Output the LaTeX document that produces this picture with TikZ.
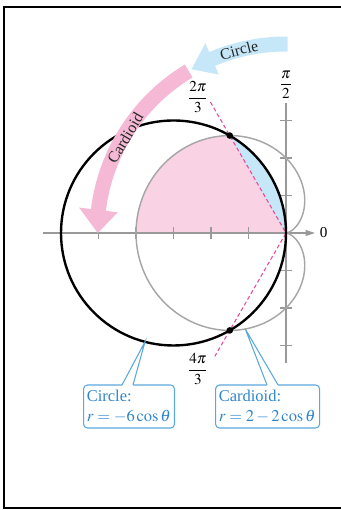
\documentclass[tikz,border=0pt]{standalone}
\usepackage{mathptmx}
\usepackage{fontspec}
\setmainfont{Liberation Serif}
\usepackage{tikz}
\usetikzlibrary{arrows.meta}
\definecolor{cardpink}{HTML}{F5B8D5}
\definecolor{regionpink}{HTML}{F9D2E4}
\definecolor{circblue}{HTML}{C6E7F8}
\definecolor{dashpink}{HTML}{E8489A}
\definecolor{axisgray}{HTML}{999999}
\definecolor{curvegray}{HTML}{A6A6A6}
\definecolor{calloutblue}{HTML}{5AA8DC}
\definecolor{labelblue}{HTML}{2F86CC}

\begin{document}
\begin{tikzpicture}[
  axis/.style={draw=axisgray, line width=0.8pt},
  tick/.style={draw=axisgray, line width=0.8pt},
  polarcurve/.style={draw=curvegray, line width=1.1pt},
  ray/.style={draw=dashpink, line width=0.8pt, dash pattern=on 3pt off 2pt},
  bandtext/.style={font=\fontsize{12}{14}\selectfont, text=black!85, inner sep=0pt},
  anglelabel/.style={font=\fontsize{11.5}{13}\selectfont, inner sep=1pt},
  callout/.style={draw=calloutblue, line width=0.8pt, rounded corners=3pt,
              fill=white, text=labelblue, align=left, inner xsep=2.5pt,
              minimum height=1.147cm, font=\fontsize{12.5}{15.5}\selectfont},
  pointer/.style={draw=calloutblue, line width=0.8pt},
  dot/.style={circle, fill=black, inner sep=0pt, minimum size=5pt}
]
\useasboundingbox (-7.627,-7.387) rectangle (1.44,6.213);
\draw[line width=1.5pt] (-7.52,-7.333) rectangle (3,6.027);

\fill[regionpink] (0,0) -- plot[domain=120:180, samples=40] (\x:{2-2*cos(\x)}) -- cycle;
\fill[circblue] (0,0) -- plot[domain=90:120, samples=30] (\x:{-6*cos(\x)}) -- cycle;

\draw[axis, -{Triangle[length=7pt, width=4.5pt]}] (-6.48,0) -- (0.77,0);
\draw[axis] (0,-3.47) -- (0,3.47);
\foreach \x in {1,...,6}
  \draw[tick] (-\x,-0.15) -- (-\x,0.15);
\foreach \y in {-3,-2,-1,1,2,3}
  \draw[tick] (-0.17,\y) -- (0.17,\y);

\draw[polarcurve] plot[domain=0:360, samples=181] (\x:{2-2*cos(\x)}) -- cycle;
\draw[ray] (120:4.03) -- (0,0) -- (240:3.8);
\draw[line width=1.8pt] (-3,0) circle[radius=3];

\node[dot] (ptop) at (120:3) {};
\node[dot] (pbot) at (240:3) {};

\fill[circblue] (89.5:4.84) -- (89.5:5.24) arc[start angle=89.5, end angle=113, radius=5.24]
  -- (113:5.5) -- (120:5.04) -- (113:4.59) -- (113:4.84)
  arc[start angle=113, end angle=89.5, radius=4.84] -- cycle;
\fill[cardpink] (121:4.84) -- (121:5.24) arc[start angle=121, end angle=173, radius=5.24]
  -- (173:5.56) -- (180:5.02) -- (173:4.52) -- (173:4.84)
  arc[start angle=173, end angle=121, radius=4.84] -- cycle;
\node[bandtext, rotate=14.5] (ncircle) at (104.4:5.04) {Circle};
\node[bandtext, rotate=59.5] (ncard)   at (149.5:4.98) {Cardioid};

\node[anglelabel] (nhalf)  at (0,3.95)      {$\displaystyle\frac{\pi}{2}$};
\node[anglelabel] (ntwo)   at (-2.35,3.63)  {$\displaystyle\frac{2\pi}{3}$};
\node[anglelabel] (nfour)  at (-2.35,-3.63) {$\displaystyle\frac{4\pi}{3}$};
\node[anglelabel, anchor=west, inner sep=3.5pt] (nzero) at (0.77,0) {0};

\node[callout, anchor=west, text width=2.25cm] (lbox) at (-5.413,-4.627)
  {Circle:\\\mbox{$r=-6\cos\theta$}};
\node[callout, anchor=west, text width=2.6cm] (rbox) at (-1.893,-4.627)
  {Cardioid:\\\mbox{$r=2-2\cos\theta$}};

\coordinate (lapex) at (-3.76,-2.9);
\coordinate (lbase1) at (-4.373,-4.053);
\coordinate (lbase2) at (-4.08,-4.053);
\coordinate (rapex) at (247:2.78);
\coordinate (rbase1) at (-0.507,-4.053);
\coordinate (rbase2) at (-0.213,-4.053);
\fill[white] ([yshift=-0.6pt]lbase1) -- (lapex) -- ([yshift=-0.6pt]lbase2) -- cycle;
\draw[pointer] (lbase1) -- (lapex) -- (lbase2);
\fill[white] ([yshift=-0.6pt]rbase1) -- (rapex) -- ([yshift=-0.6pt]rbase2) -- cycle;
\draw[pointer] (rbase1) -- (rapex) -- (rbase2);
\end{tikzpicture}
\end{document}
